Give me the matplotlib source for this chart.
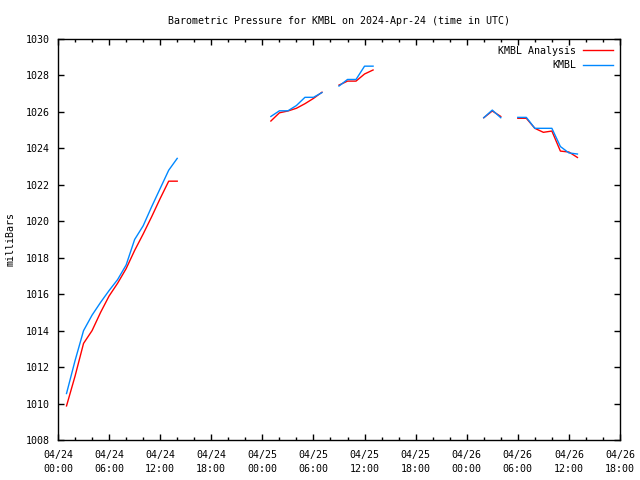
import numpy as np
import matplotlib.pyplot as plt
from matplotlib.ticker import MultipleLocator

# hours since 2024-04-24 00:00 UTC
hours = np.arange(1, 62)

nan = np.nan
kmbl = [
    1010.55, 1012.35, 1014.0, 1014.85, 1015.55, 1016.2, 1016.8, 1017.6,
    1019.0, 1019.75, 1020.8, 1021.8, 1022.8, 1023.45,
    nan, nan, nan, nan, nan, nan, nan, nan, nan, nan,
    1025.75, 1026.06, 1026.06, 1026.35, 1026.8, 1026.8, 1027.06,
    nan,
    1027.42, 1027.78, 1027.78, 1028.51, 1028.51,
    nan, nan, nan, nan, nan, nan, nan, nan, nan, nan, nan, nan,
    1025.68, 1026.1, 1025.68,
    nan,
    1025.7, 1025.7, 1025.1, 1025.1, 1025.1, 1024.1, 1023.75, 1023.69,
]

analysis = [
    1009.87, 1011.5, 1013.3, 1014.0, 1015.0, 1015.9, 1016.6, 1017.4,
    1018.4, 1019.3, 1020.25, 1021.25, 1022.2, 1022.2,
    nan, nan, nan, nan, nan, nan, nan, nan, nan, nan,
    1025.5, 1025.95, 1026.05, 1026.2, 1026.45, 1026.74, 1027.08,
    nan,
    1027.47, 1027.69, 1027.69, 1028.08, 1028.3,
    nan, nan, nan, nan, nan, nan, nan, nan, nan, nan, nan, nan,
    1025.68, 1026.05, 1025.75,
    nan,
    1025.65, 1025.65, 1025.1, 1024.88, 1024.95, 1023.85, 1023.8, 1023.5,
]

tick_hours = np.arange(0, 67, 6)
tick_labels = [
    "04/24\n00:00", "04/24\n06:00", "04/24\n12:00", "04/24\n18:00",
    "04/25\n00:00", "04/25\n06:00", "04/25\n12:00", "04/25\n18:00",
    "04/26\n00:00", "04/26\n06:00", "04/26\n12:00", "04/26\n18:00",
]

plt.rcParams["font.family"] = "DejaVu Sans Mono"
plt.rcParams["font.size"] = 7.2

fig = plt.figure(figsize=(6.4, 4.8), dpi=100)
ax = fig.add_axes([58 / 640, 40 / 480, 562 / 640, 401 / 480])

ax.plot(hours, analysis, color="#ff0000", lw=1, label="KMBL Analysis")
ax.plot(hours, kmbl, color="#0088ff", lw=1, label="KMBL")

ax.set_xlim(0, 66)
ax.set_ylim(1008, 1030)
ax.set_xticks(tick_hours)
ax.set_xticklabels(tick_labels, linespacing=1.55)
ax.xaxis.set_minor_locator(MultipleLocator(2))
ax.yaxis.set_major_locator(MultipleLocator(2))

ax.tick_params(which="both", direction="in", top=True, right=True,
               width=1, colors="black")
ax.tick_params(which="major", length=4.5, pad=6)
ax.tick_params(axis="x", which="major", pad=7)
ax.tick_params(which="minor", length=2.2)
for s in ax.spines.values():
    s.set_linewidth(1)

ax.set_title("Barometric Pressure for KMBL on 2024-Apr-24 (time in UTC)",
             fontsize=7.2, pad=11)
ax.set_ylabel("milliBars", labelpad=7)

ax.legend(loc="upper right", frameon=False, markerfirst=False,
          handlelength=3.0, handletextpad=0.7, borderaxespad=0.7,
          labelspacing=0.45, borderpad=0.0)

fig.savefig("out.png", dpi=100)
